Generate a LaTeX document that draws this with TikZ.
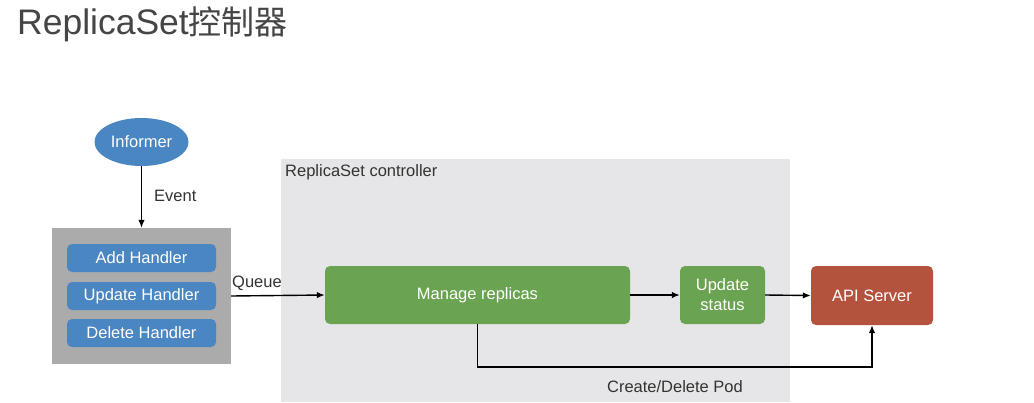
\documentclass[tikz,border=0pt]{standalone}
\usepackage{fontspec}
\setmainfont{Liberation Sans}
\newfontfamily\cjk{Noto Sans CJK SC}
\usetikzlibrary{shapes.geometric,arrows.meta}
\definecolor{nodeblue}{HTML}{4A86C1}
\definecolor{nodegreen}{HTML}{6AA352}
\definecolor{nodered}{HTML}{B4533D}
\definecolor{panelgray}{HTML}{ABABAB}
\definecolor{ctrlgray}{HTML}{E6E6E8}
\definecolor{txtdark}{HTML}{333333}
\definecolor{titlegray}{HTML}{454545}
\begin{document}
\begin{tikzpicture}[x=1pt,y=-1pt,
  lbl/.style={font=\fontsize{16.5}{18}\selectfont, text=txtdark, inner sep=0pt},
  box/.style={rounded corners=5pt, text=white, font=\fontsize{16.5}{19}\selectfont, inner sep=0pt, align=center},
  handler/.style={box, fill=nodeblue, minimum width=149pt, minimum height=28pt},
  arr/.style={line width=1.4pt, draw=black, -{Latex[length=8pt,width=6.5pt]}}
]
\useasboundingbox (0,0) rectangle (1034,402);
% title
\node[anchor=base west, inner sep=0pt, text=titlegray, font=\fontsize{35.5}{38}\selectfont] (title) at (17,34) {ReplicaSet{\cjk\fontsize{33}{38}\selectfont 控制器}};
% controller region
\node[fill=ctrlgray, minimum width=509pt, minimum height=243pt, inner sep=0pt] (ctrl) at (535.5,280.5) {};
\node[lbl, anchor=north west] (ctrllbl) at (285,164) {ReplicaSet controller};
% informer
\node[ellipse, fill=nodeblue, minimum width=94pt, minimum height=48pt, inner sep=0pt, text=white, font=\fontsize{16.5}{19}\selectfont] (inf) at (141.5,142) {Informer};
% handler panel
\node[fill=panelgray, minimum width=179pt, minimum height=136pt, inner sep=0pt] (panel) at (141.5,296) {};
\node[handler] (add) at (141.5,258) {Add Handler};
\node[handler] (upd) at (141.5,296) {Update Handler};
\node[handler] (del) at (141.5,333) {Delete Handler};
% green / red nodes
\node[box, fill=nodegreen, minimum width=305pt, minimum height=58pt] (manage) at (477.5,295) {Manage replicas};
\node[box, fill=nodegreen, minimum width=85pt, minimum height=58pt, font=\fontsize{16.5}{20}\selectfont] (status) at (722.5,295) {Update\\status};
\node[box, fill=nodered, minimum width=122pt, minimum height=59pt] (api) at (872,295.5) {API Server};
% connectors
\draw[arr] (inf.south) -- (panel.north);
\node[lbl, anchor=west] (event) at (154,196) {Event};
\draw[arr] (panel.east) -- (manage.west);
\node[lbl, anchor=south west] (queue) at (232,291) {Queue};
\draw[arr] (manage.east) -- (status.west);
\draw[arr] (status.east) -- (api.west);
\coordinate (turn) at (478,367);
\draw[arr] (manage.south) -- (manage.south |- turn) -| (api.south);
\node[lbl] (pod) at (675,387) {Create/Delete Pod};
\end{tikzpicture}
\end{document}
